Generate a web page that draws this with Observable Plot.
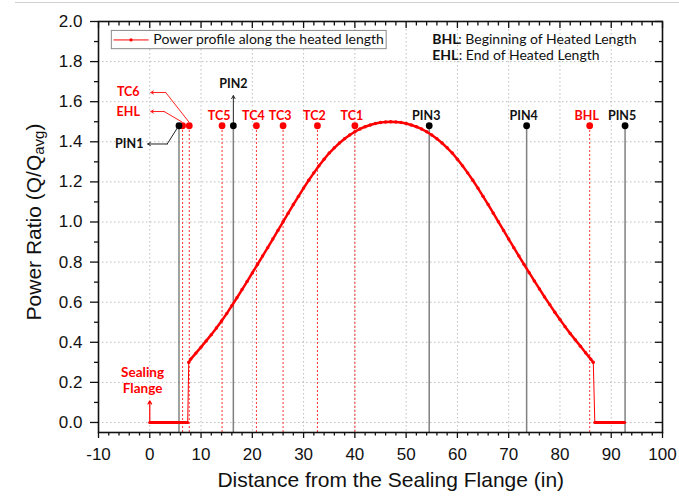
<!DOCTYPE html>
<html><head><meta charset="utf-8">
<script src="https://cdn.jsdelivr.net/npm/d3@7"></script>
<script src="https://cdn.jsdelivr.net/npm/@observablehq/plot@0.6"></script>
<style>
html,body{margin:0;padding:0;background:#fff;}
#wrap{position:relative;width:679px;height:498px;}
#topline{position:absolute;left:15px;right:0;top:2px;height:1px;background:#d0d0d0;}
</style></head><body><div id="wrap"><div id="topline"></div></div>
<script>
// Power profile along the heated length
const profileX = [7.6, 8, 9, 10, 11, 12, 13, 14, 15, 16, 17, 18, 19, 20, 21, 22, 23, 24, 25, 26, 27, 28, 29, 30,
  31, 32, 33, 34, 35, 36, 37, 38, 39, 40, 41, 42, 43, 44, 45, 46, 47, 48, 49, 50, 51, 52, 53, 54, 55, 56, 57,
  58, 59, 60, 61, 62, 63, 64, 65, 66, 67, 68, 69, 70, 71, 72, 73, 74, 75, 76, 77, 78, 79, 80, 81, 82, 83, 84,
  85, 86, 86.5];
const profileY = [0.300, 0.316, 0.346, 0.376, 0.407, 0.438, 0.471, 0.506, 0.543, 0.582, 0.622, 0.663, 0.704,
  0.746, 0.788, 0.830, 0.872, 0.915, 0.958, 1.001, 1.044, 1.087, 1.128, 1.169, 1.208, 1.245, 1.280, 1.313,
  1.344, 1.370, 1.394, 1.415, 1.434, 1.450, 1.464, 1.475, 1.484, 1.491, 1.496, 1.499, 1.500,
  1.499, 1.496, 1.491, 1.484, 1.475, 1.464, 1.450, 1.434, 1.415, 1.394, 1.370, 1.344, 1.313, 1.280, 1.245,
  1.208, 1.169, 1.128, 1.087, 1.044, 1.001, 0.958, 0.915, 0.872, 0.830, 0.788, 0.747, 0.706, 0.666, 0.626,
  0.588, 0.550, 0.514, 0.478, 0.444, 0.412, 0.380, 0.348, 0.316, 0.300];
// Unheated ends (zero power)
const flangeLeftX = [0, 7.4];
const flangeRightX = [86.8, 92.6];
const flangeY = [0, 0];

// Instrument locations
const pinNames = ["PIN1", "PIN2", "PIN3", "PIN4", "PIN5"];
const pinX = [5.7, 16.3, 54.5, 73.5, 92.7];
const tcNames = ["EHL", "TC6", "TC5", "TC4", "TC3", "TC2", "TC1", "BHL"];
const tcX = [6.4, 7.7, 14.1, 20.8, 26.0, 32.7, 40.0, 85.8];
const markerLevel = 1.48;

// Ticks
const xTicks = [-10, 0, 10, 20, 30, 40, 50, 60, 70, 80, 90, 100];
const xMinor = [-8, -6, -4, -2, 2, 4, 6, 8, 12, 14, 16, 18, 22, 24, 26, 28, 32, 34, 36, 38, 42, 44, 46, 48,
  52, 54, 56, 58, 62, 64, 66, 68, 72, 74, 76, 78, 82, 84, 86, 88, 92, 94, 96, 98];
const yTicks = [0, 0.2, 0.4, 0.6, 0.8, 1.0, 1.2, 1.4, 1.6, 1.8, 2.0];
const yMinor = [0.1, 0.3, 0.5, 0.7, 0.9, 1.1, 1.3, 1.5, 1.7, 1.9];

// Build tables
const profile = profileX.map((x, i) => ({x, y: profileY[i]}));
const flangeL = flangeLeftX.map((x, i) => ({x, y: flangeY[i]}));
const flangeR = flangeRightX.map((x, i) => ({x, y: flangeY[i]}));
const series = [...flangeL, ...profile, ...flangeR];
const pins = pinNames.map((name, i) => ({name, x: pinX[i], y: markerLevel}));
const tcs = tcNames.map((name, i) => ({name, x: tcX[i], y: markerLevel}));
const topLabeled = [...tcs, ...pins].filter(d => !["EHL", "TC6", "PIN1", "PIN2"].includes(d.name));

// Side-label leaders: label position, elbow, arrow tip, target dot
const leaders = [
  {name: "TC6", color: "#ff2020", lx: -4.2, ly: 1.646, ex: 3.1, tip: 0.2, tx: 7.6, ty: 1.50},
  {name: "EHL", color: "#ff2020", lx: -4.2, ly: 1.551, ex: 2.8, tip: 0.2, tx: 6.2, ty: 1.50},
  {name: "PIN1", color: "#222", lx: -4.0, ly: 1.389, ex: 3.4, tip: -0.4, tx: 5.4, ty: 1.47}
];

const red = "#ff0000";
const labelFont = "Lato, 'Open Sans', sans-serif";

const plot = Plot.plot({
  width: 679, height: 498,
  marginLeft: 98, marginRight: 17, marginTop: 21, marginBottom: 66,
  x: {domain: [-10, 100]},
  y: {domain: [-0.05, 2.0]},
  style: {fontFamily: "'Liberation Sans', Arial, sans-serif", background: "white", color: "#111"},
  marks: [
    Plot.gridX(xTicks.slice(1, -1), {stroke: "#bdbdbd", strokeOpacity: 1, strokeDasharray: "1.5,2.5"}),
    Plot.gridY(yTicks.slice(0, -1), {stroke: "#bdbdbd", strokeOpacity: 1, strokeDasharray: "1.5,2.5"}),
    // legend box
    Plot.rect([{x1: -7.4, x2: 46.2, y1: 1.862, y2: 1.953}], {x1: "x1", x2: "x2", y1: "y1", y2: "y2", fill: "white", stroke: "#8a8a8a", strokeWidth: 1}),
    Plot.line([{x: -7.0, y: 1.908}, {x: -0.3, y: 1.908}], {x: "x", y: "y", stroke: red, strokeWidth: 1}),
    Plot.dot([{x: -3.65, y: 1.908}], {x: "x", y: "y", r: 1.6, fill: red}),
    Plot.text(["Power profile along the heated length"], {x: 0.7, y: 1.908, textAnchor: "start", fontSize: 14, fontFamily: labelFont, fill: "#111"}),
    // BHL / EHL note
    Plot.text(["BHL", "EHL"], {x: 55.1, y: [1.912, 1.829], textAnchor: "start", fontSize: 14, fontWeight: "bold", fontFamily: labelFont, fill: "#111"}),
    Plot.text([": Beginning of Heated Length"], {x: 55.1, y: 1.912, dx: 26, textAnchor: "start", fontSize: 14, fontFamily: labelFont, fill: "#111"}),
    Plot.text([": End of Heated Length"], {x: 55.1, y: 1.829, dx: 26.5, textAnchor: "start", fontSize: 14, fontFamily: labelFont, fill: "#111"}),
    // vertical instrument lines
    Plot.ruleX(tcs, {x: "x", y1: -0.05, y2: "y", stroke: "#ff3030", strokeWidth: 1, strokeDasharray: "2,2"}),
    Plot.ruleX(pins, {x: "x", y1: -0.05, y2: "y", stroke: d => d.name === "PIN1" ? "#444" : "#808080", strokeWidth: d => d.name === "PIN1" ? 1 : 1.5}),
    Plot.arrow([pins[1]], {x1: "x", y1: "y", x2: "x", y2: 1.63, stroke: "#222", strokeWidth: 1, headLength: 5}),
    // power profile
    Plot.line(series, {x: "x", y: "y", stroke: red, strokeWidth: 1}),
    Plot.line(profile, {x: "x", y: "y", stroke: red, strokeWidth: 2.5}),
    Plot.dot(profile, {x: "x", y: "y", r: 1.7, fill: red}),
    Plot.line(flangeL, {x: "x", y: "y", stroke: red, strokeWidth: 3.2}),
    Plot.line(flangeR, {x: "x", y: "y", stroke: red, strokeWidth: 3.2}),
    // instrument dots
    Plot.dot(tcs, {x: "x", y: "y", r: 3.4, fill: red}),
    Plot.dot(pins, {x: "x", y: "y", r: 3.4, fill: "#000"}),
    Plot.text(topLabeled, {x: "x", y: 1.53, text: "name", dx: -3, fontSize: 12.5, fontWeight: "bold", fontFamily: labelFont, fill: d => d.name.startsWith("PIN") ? "#111" : red}),
    Plot.text([pins[1]], {x: "x", y: 1.688, text: "name", fontSize: 12.5, fontWeight: "bold", fontFamily: labelFont, fill: "#111"}),
    // side leaders
    Plot.line(leaders.flatMap(d => [{k: d.name, x: d.ex, y: d.ly, c: d.color}, {k: d.name, x: d.tx, y: d.ty, c: d.color}]), {x: "x", y: "y", z: "k", stroke: "c", strokeWidth: 1}),
    Plot.arrow(leaders, {x1: "ex", y1: "ly", x2: "tip", y2: "ly", stroke: "color", strokeWidth: 1, headLength: 4.5}),
    Plot.text(leaders, {x: "lx", y: "ly", text: "name", fontSize: 12.5, fontWeight: "bold", fontFamily: labelFont, fill: d => d.name === "PIN1" ? "#111" : red}),
    // sealing flange
    Plot.arrow([{x: 0}], {x1: "x", y1: 0, x2: "x", y2: 0.108, stroke: red, strokeWidth: 1.2, headLength: 4.5}),
    Plot.text(["Sealing\nFlange"], {x: -1.4, y: 0.212, fontSize: 13.5, lineHeight: 1.15, fontWeight: "bold", fontFamily: labelFont, fill: red}),
    // axes
    Plot.axisX(xTicks, {anchor: "bottom", tickSize: 6, tickPadding: 9, fontSize: 17, strokeWidth: 1.3, tickFormat: d => String(d), label: null}),
    Plot.axisX(xMinor, {anchor: "bottom", tickSize: 3.5, strokeWidth: 1.3, tickFormat: () => "", label: null}),
    Plot.axisX(xTicks, {anchor: "top", tickSize: -6, strokeWidth: 1.3, tickFormat: () => "", label: null}),
    Plot.axisX(xMinor, {anchor: "top", tickSize: -3.5, strokeWidth: 1.3, tickFormat: () => "", label: null}),
    Plot.axisY(yTicks, {anchor: "left", tickSize: 8, tickPadding: 8, fontSize: 17, strokeWidth: 1.3, tickFormat: d => d.toFixed(1), label: null}),
    Plot.axisY(yMinor, {anchor: "left", tickSize: 4, strokeWidth: 1.3, tickFormat: () => "", label: null}),
    Plot.axisY(yTicks, {anchor: "right", tickSize: -8, strokeWidth: 1.3, tickFormat: () => "", label: null}),
    Plot.axisY(yMinor, {anchor: "right", tickSize: -4, strokeWidth: 1.3, tickFormat: () => "", label: null}),
    Plot.text(["Distance from the Sealing Flange (in)"], {x: 47, frameAnchor: "bottom", dy: 54, fontSize: 21, fill: "#111"}),
    Plot.frame({stroke: "#111", strokeWidth: 1.6})
  ]
});

// y-axis title with subscript
const svg = d3.select(plot);
const yt = svg.append("text")
  .attr("transform", "translate(33,222) rotate(-90)")
  .attr("text-anchor", "middle")
  .attr("dominant-baseline", "central")
  .attr("font-family", "'Liberation Sans', Arial, sans-serif")
  .attr("font-size", 21)
  .attr("fill", "#111");
yt.append("tspan").text("Power Ratio (Q/Q");
yt.append("tspan").attr("font-size", 15).attr("dy", 5).text("avg");
yt.append("tspan").attr("dy", -5).text(")");

document.getElementById("wrap").appendChild(plot);
</script>
</body></html>
